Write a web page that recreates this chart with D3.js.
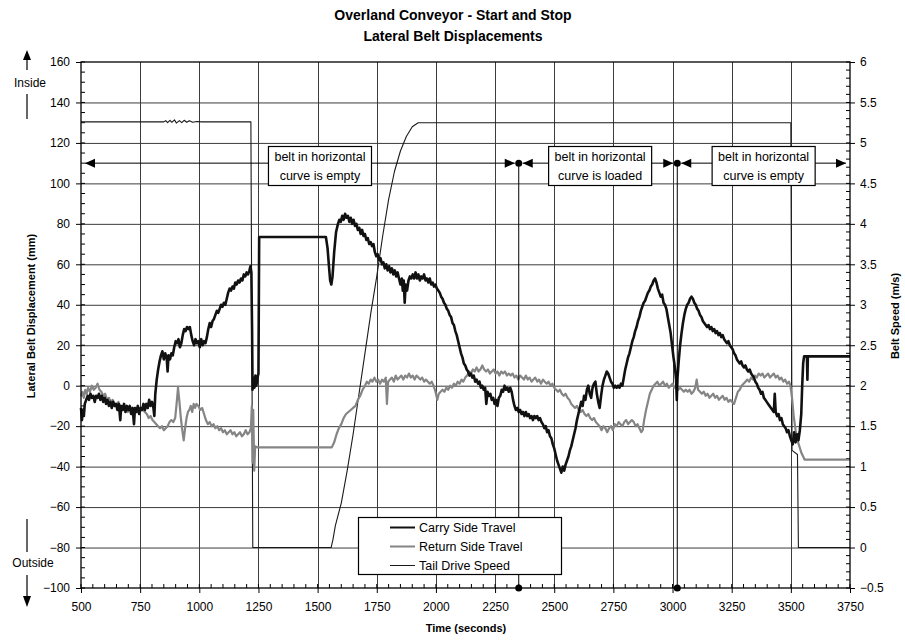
<!DOCTYPE html>
<html>
<head>
<meta charset="utf-8">
<script src="https://cdn.jsdelivr.net/npm/d3@7"></script>
<style>
  body { margin: 0; background: #fff; }
  svg { display: block; font-family: "Liberation Sans", Arial, sans-serif; }
</style>
</head>
<body>
<svg id="chart" width="905" height="640"></svg>
<script>
// ---- axis ticks ----
const timeTicks = [500, 750, 1000, 1250, 1500, 1750, 2000, 2250, 2500, 2750, 3000, 3250, 3500, 3750];
const dispTicks = [-100, -80, -60, -40, -20, 0, 20, 40, 60, 80, 100, 120, 140, 160];
const speedTicks = [-0.5, 0, 0.5, 1, 1.5, 2, 2.5, 3, 3.5, 4, 4.5, 5, 5.5, 6];

const seriesNames = ["Carry Side Travel", "Return Side Travel", "Tail Drive Speed"];

// ---- carry side lateral displacement, [time s, mm] ----
const carryTravel = [
  [500,-11],[504,-17],[508,-12],[512,-15],[516,-9],[522,-7],[528,-5],[534,-7],[540,-4],[546,-6],[552,-5],[558,-8],[564,-5],[570,-6],[576,-4],[582,-7],[588,-5],[594,-8],[600,-6],[606,-9],[612,-7],[618,-10],[624,-8],[630,-11],[636,-8],[642,-10],[648,-9],[654,-12],[660,-9],[666,-17],[670,-10],[676,-12],[682,-9],[688,-13],[694,-10],[700,-12],[706,-10],[712,-14],[718,-11],[724,-19],[728,-11],[734,-13],[740,-10],[746,-14],[752,-11],[758,-12],[764,-9],[770,-12],[776,-9],[782,-11],[788,-7],[794,-10],[800,-8],[806,-11],[810,-15],[814,-4],[820,3],[826,8],[832,12],[838,15],[844,17],[850,13],[856,16],[862,14],[866,7],[870,15],[876,13],[882,16],[888,15],[894,19],[900,22],[906,21],[912,23],[918,19],[924,21],[930,25],[936,28],[942,27],[948,29],[954,28],[960,29],[966,25],[972,22],[978,20],[984,23],[990,21],[996,22],[1002,19],[1008,23],[1014,20],[1020,22],[1026,21],[1032,24],[1038,28],[1044,31],[1050,29],[1056,32],[1062,33],[1068,35],[1074,37],[1080,36],[1086,38],[1092,40],[1098,39],[1104,41],[1110,40],[1116,43],[1122,46],[1128,48],[1134,47],[1140,49],[1146,48],[1152,51],[1158,50],[1164,52],[1170,51],[1176,53],[1182,52],[1188,55],[1194,54],[1200,56],[1206,55],[1212,57],[1216,59],[1220,56],[1223,28],[1225,-2],[1229,4],[1233,-1],[1237,5],[1241,0],[1246,4],[1250,6],[1253,73.5],
  [1535,73.5],[1542,68],[1548,59],[1553,52],[1558,50],[1563,54],[1570,66],[1578,76],[1586,80],[1592,82],[1598,81],[1604,84],[1610,82],[1616,85],[1622,83],[1628,84],[1634,81],[1640,83],[1646,80],[1652,82],[1658,79],[1664,80],[1670,77],[1676,78],[1682,75],[1688,77],[1694,74],[1700,75],[1706,72],[1712,73],[1718,70],[1724,71],[1730,69],[1736,70],[1742,66],[1748,64],[1754,65],[1760,62],[1766,63],[1772,60],[1778,61],[1784,58],[1790,60],[1796,57],[1802,59],[1808,56],[1814,58],[1820,55],[1826,57],[1832,54],[1838,56],[1844,53],[1850,50],[1856,53],[1860,47],[1864,52],[1868,41],[1872,50],[1878,47],[1884,52],[1890,54],[1896,53],[1902,55],[1908,53],[1914,56],[1920,53],[1926,55],[1932,52],[1938,54],[1944,53],[1950,55],[1956,52],[1962,53],[1968,51],[1974,53],[1980,50],[1986,51],[1992,49],[1998,50],[2004,48],[2010,47],[2016,46],[2022,44],[2028,43],[2034,41],[2040,40],[2046,38],[2052,37],[2058,35],[2064,34],[2070,31],[2076,30],[2082,27],[2088,25],[2094,22],[2100,19],[2106,16],[2112,14],[2118,11],[2124,10],[2130,8],[2136,7],[2142,5],[2148,6],[2154,4],[2160,5],[2166,2],[2172,3],[2178,1],[2184,2],[2190,-1],[2196,0],[2202,-2],[2208,-1],[2213,-9],[2218,-3],[2224,-5],[2230,-4],[2236,-7],[2242,-6],[2248,-9],[2254,-7],[2260,-10],[2266,-6],[2272,-5],[2278,-2],[2284,-3],[2290,0],[2296,-2],[2302,-1],[2308,-3],[2314,-1],[2320,-3],[2326,-7],[2332,-10],[2338,-12],[2344,-11],[2350,-13],[2356,-12],[2362,-14],[2368,-13],[2374,-15],[2380,-13],[2386,-15],[2392,-14],[2398,-16],[2404,-15],[2410,-17],[2416,-15],[2422,-16],[2428,-15],[2434,-17],[2440,-16],[2446,-18],[2452,-19],[2458,-21],[2464,-20],[2470,-23],[2476,-22],[2482,-25],[2488,-26],[2494,-29],[2500,-31],[2506,-34],[2512,-37],[2518,-39],[2524,-41],[2530,-43],[2536,-40],[2542,-42],[2548,-39],[2554,-37],[2560,-35],[2566,-32],[2572,-30],[2578,-27],[2584,-24],[2590,-21],[2596,-17],[2602,-14],[2608,-11],[2614,-8],[2620,-10],[2626,-5],[2632,-7],[2638,-2],[2644,0],[2650,-4],[2656,-6],[2662,-1],[2668,1],[2674,2],[2680,-4],[2686,-8],[2692,-11],[2698,-5],[2704,0],[2710,3],[2716,5],[2722,7],[2728,6],[2734,4],[2740,2],[2746,1],[2752,-1],[2758,0],[2764,-1],[2770,0],[2776,-1],[2782,1],[2788,0],[2794,4],[2800,8],[2806,11],[2812,14],[2818,16],[2824,19],[2830,22],[2836,24],[2842,27],[2848,29],[2854,32],[2860,34],[2866,37],[2872,39],[2878,41],[2884,42],[2890,44],[2896,46],[2902,47],[2908,49],[2914,50],[2920,52],[2926,53],[2932,51],[2938,48],[2944,46],[2950,44],[2956,45],[2962,41],[2968,40],[2974,38],[2980,34],[2986,30],[2992,26],[2998,20],[3004,14],[3010,9],[3015,3],[3018,-7],[3021,4],[3026,12],[3032,20],[3038,26],[3044,31],[3050,35],[3056,38],[3062,40],[3068,41],[3074,43],[3080,44],[3086,43],[3092,41],[3098,40],[3104,38],[3110,37],[3116,35],[3122,34],[3128,32],[3134,31],[3140,30],[3146,29],[3152,30],[3158,28],[3164,29],[3170,27],[3176,28],[3182,26],[3188,27],[3194,25],[3200,26],[3206,24],[3212,25],[3218,23],[3224,22],[3230,21],[3236,22],[3242,20],[3248,19],[3254,18],[3260,16],[3266,15],[3272,13],[3278,12],[3284,11],[3290,12],[3296,10],[3302,9],[3308,10],[3314,8],[3320,7],[3326,8],[3332,6],[3338,5],[3344,4],[3350,2],[3356,1],[3362,-1],[3368,-2],[3374,-4],[3380,-3],[3386,-6],[3392,-7],[3398,-8],[3404,-9],[3410,-10],[3416,-11],[3422,-12],[3428,-13],[3432,-4],[3436,-13],[3442,-15],[3448,-14],[3454,-17],[3460,-16],[3466,-19],[3472,-20],[3478,-21],[3484,-23],[3490,-22],[3496,-25],[3502,-27],[3508,-29],[3514,-23],[3520,-28],[3526,-24],[3532,-27],[3538,-22],[3544,-14],[3548,0],[3552,11],[3556,14.5],[3568,14.5],[3570,3],[3572,14.5],[3750,14.5]
];

// ---- return side lateral displacement, [time s, mm] ----
const returnTravel = [
  [500,-5],[506,-3],[512,-6],[518,-2],[524,-4],[530,-1],[538,-3],[546,0],[554,-2],[562,-1],[570,1],[578,-2],[586,-3],[594,-5],[602,-4],[610,-7],[618,-6],[626,-8],[634,-7],[642,-9],[650,-10],[658,-8],[666,-11],[674,-10],[682,-12],[690,-11],[698,-13],[706,-11],[714,-12],[722,-13],[730,-11],[738,-12],[746,-14],[754,-11],[762,-12],[770,-13],[778,-14],[786,-16],[794,-15],[802,-17],[810,-18],[818,-19],[826,-20],[834,-21],[842,-20],[850,-22],[858,-21],[866,-20],[874,-18],[882,-17],[890,-18],[898,-16],[904,-9],[910,-1],[916,-8],[922,-16],[928,-22],[934,-27],[940,-21],[946,-16],[952,-13],[958,-12],[964,-10],[970,-13],[976,-9],[982,-11],[988,-9],[996,-10],[1004,-12],[1012,-11],[1020,-14],[1028,-17],[1036,-19],[1044,-18],[1052,-20],[1060,-19],[1068,-21],[1076,-20],[1084,-22],[1092,-21],[1100,-23],[1108,-22],[1116,-24],[1124,-23],[1132,-22],[1140,-24],[1148,-23],[1156,-25],[1164,-24],[1172,-23],[1180,-25],[1188,-24],[1196,-22],[1204,-24],[1212,-23],[1218,-21],[1222,-10],[1225,-38],[1228,-12],[1232,-42],[1236,-30],[1246,-30.5],
  [1560,-30.5],[1570,-28],[1580,-24],[1590,-21],[1600,-19],[1610,-16],[1620,-14],[1630,-13],[1640,-12],[1650,-11],[1660,-10],[1670,-7],[1680,-5],[1690,-2],[1700,0],[1708,2],[1716,1],[1724,3],[1732,2],[1740,4],[1748,2],[1756,3],[1764,1],[1772,3],[1780,2],[1788,4],[1793,-9],[1798,2],[1806,3],[1814,4],[1822,2],[1830,5],[1838,3],[1846,4],[1854,5],[1862,3],[1870,5],[1878,4],[1886,6],[1894,4],[1902,5],[1910,3],[1918,5],[1926,4],[1934,3],[1942,4],[1950,2],[1958,3],[1966,2],[1974,1],[1982,2],[1990,0],[1998,-3],[2006,-7],[2012,-4],[2020,-3],[2028,-2],[2036,-3],[2044,-1],[2052,-2],[2060,0],[2068,-1],[2076,1],[2084,0],[2092,2],[2100,1],[2108,3],[2116,2],[2124,4],[2132,5],[2140,7],[2148,6],[2156,8],[2164,7],[2172,9],[2180,7],[2188,8],[2196,10],[2204,8],[2212,7],[2220,8],[2228,6],[2236,7],[2244,8],[2252,6],[2260,7],[2268,5],[2276,7],[2284,6],[2292,7],[2300,5],[2308,6],[2316,5],[2324,6],[2332,4],[2340,5],[2348,3],[2356,5],[2364,4],[2372,3],[2380,5],[2388,3],[2396,4],[2404,2],[2412,3],[2420,4],[2428,2],[2436,3],[2444,1],[2452,3],[2460,2],[2468,1],[2476,2],[2484,0],[2492,1],[2500,-1],[2508,-2],[2516,-3],[2524,-2],[2532,-4],[2540,-5],[2548,-4],[2556,-6],[2564,-7],[2572,-9],[2580,-10],[2588,-11],[2596,-10],[2604,-12],[2612,-13],[2620,-12],[2628,-14],[2636,-15],[2644,-14],[2652,-16],[2660,-17],[2668,-16],[2676,-18],[2684,-19],[2692,-20],[2700,-22],[2708,-20],[2716,-21],[2724,-23],[2732,-21],[2740,-20],[2748,-22],[2756,-19],[2764,-20],[2772,-18],[2780,-19],[2788,-20],[2796,-18],[2804,-17],[2812,-19],[2820,-18],[2828,-17],[2836,-18],[2844,-20],[2852,-19],[2860,-21],[2868,-23],[2874,-22],[2880,-17],[2888,-12],[2896,-8],[2904,-4],[2912,-2],[2920,0],[2928,1],[2936,2],[2944,0],[2952,1],[2960,2],[2968,0],[2976,1],[2984,-1],[2992,0],[3000,1],[3008,-1],[3016,0],[3024,-2],[3032,-1],[3040,-2],[3048,-3],[3056,-2],[3064,-3],[3072,-2],[3080,-4],[3088,-3],[3096,-1],[3102,3],[3108,-2],[3116,-3],[3124,-4],[3132,-3],[3140,-5],[3148,-4],[3156,-6],[3164,-5],[3172,-4],[3180,-6],[3188,-5],[3196,-7],[3204,-6],[3212,-5],[3220,-7],[3228,-6],[3236,-8],[3244,-7],[3252,-8],[3260,-9],[3268,-6],[3276,-3],[3284,-2],[3292,0],[3300,1],[3308,2],[3316,3],[3324,2],[3332,4],[3340,3],[3348,5],[3356,4],[3364,6],[3372,5],[3380,6],[3388,4],[3396,5],[3404,6],[3412,4],[3420,5],[3428,6],[3436,4],[3444,5],[3452,3],[3460,4],[3468,2],[3476,3],[3484,1],[3492,2],[3498,0],[3505,-6],[3512,-15],[3520,-22],[3528,-27],[3536,-30],[3544,-33],[3552,-35],[3558,-36.5],[3750,-36.5]
];

// ---- tail drive belt speed, [time s, m/s] ----
const tailSpeed = [
  [500,5.26],[850,5.26],[858,5.275],[866,5.25],[876,5.28],[884,5.255],[895,5.285],[903,5.245],[916,5.275],[926,5.25],[936,5.28],[947,5.255],[958,5.275],[972,5.255],[990,5.265],[1010,5.26],[1218,5.26],[1226,0],
  [1557,0],[1565,0.1],[1575,0.27],[1600,0.55],[1625,0.95],[1650,1.4],[1675,1.9],[1700,2.4],[1725,2.9],[1750,3.35],[1775,3.85],[1800,4.3],[1825,4.65],[1850,4.9],[1875,5.08],[1900,5.2],[1925,5.25],
  [3500,5.25],[3505,1.2],[3528,1.15],[3532,0],[3750,0]
];

// ---- operating regions along the run ----
const regionBreaks = [2350, 3020];
const regionLabels = [
  ["belt in horizontal", "curve is empty"],
  ["belt in horizontal", "curve is loaded"],
  ["belt in horizontal", "curve is empty"]
];
const regionArrowLevel = 110;   // mm, height of the region arrows

// ---- layout ----
const svg = d3.select("#chart");
const m = { l: 81, r: 850, t: 62, b: 588 };
const FONT = '"Liberation Sans", Arial, sans-serif';

const x = d3.scaleLinear().domain([500, 3750]).range([m.l, m.r]);
const y = d3.scaleLinear().domain([-100, 160]).range([m.b, m.t]);
const y2 = d3.scaleLinear().domain([-0.5, 6]).range([m.b, m.t]);

svg.append("rect").attr("width", 905).attr("height", 640).attr("fill", "#fff");

// titles
svg.append("text").attr("x", 453).attr("y", 20).attr("text-anchor", "middle")
  .attr("font-size", 14).attr("font-weight", "bold").text("Overland Conveyor - Start and Stop");
svg.append("text").attr("x", 453).attr("y", 41).attr("text-anchor", "middle")
  .attr("font-size", 14).attr("font-weight", "bold").text("Lateral Belt Displacements");

// grid
const grid = svg.append("g").attr("stroke", "#3c3c3c").attr("stroke-width", 1);
grid.selectAll("line.h").data(dispTicks.slice(1, -1)).join("line").attr("class", "h")
  .attr("x1", m.l).attr("x2", m.r).attr("y1", d => y(d) + 0.5).attr("y2", d => y(d) + 0.5);
grid.selectAll("line.v").data(timeTicks.slice(1, -1)).join("line").attr("class", "v")
  .attr("y1", m.t).attr("y2", m.b).attr("x1", d => Math.round(x(d)) + 0.5).attr("x2", d => Math.round(x(d)) + 0.5);

// minor ticks (inside the frame)
const minor = svg.append("g").attr("stroke", "#000").attr("stroke-width", 1);
minor.selectAll("line.ml").data(d3.range(-100, 160.01, 5)).join("line").attr("class", "ml")
  .attr("x1", m.l).attr("x2", m.l + 4).attr("y1", d => y(d)).attr("y2", d => y(d));
minor.selectAll("line.mr").data(d3.range(-0.5, 6.001, 0.1)).join("line").attr("class", "mr")
  .attr("x1", m.r - 4).attr("x2", m.r).attr("y1", d => y2(d)).attr("y2", d => y2(d));
minor.selectAll("line.mb").data(d3.range(500, 3750.1, 50)).join("line").attr("class", "mb")
  .attr("x1", d => x(d)).attr("x2", d => x(d)).attr("y1", m.b - 4).attr("y2", m.b);

// axes
function styleAxis(g) {
  g.select(".domain").remove();
  g.selectAll("text").attr("font-size", 12).attr("font-family", FONT).attr("fill", "#000");
  g.selectAll("line").attr("stroke", "#000");
}
svg.append("g").attr("transform", `translate(${m.l},0)`)
  .call(d3.axisLeft(y).tickValues(dispTicks).tickSize(5).tickPadding(6)).call(styleAxis);
svg.append("g").attr("transform", `translate(${m.r},0)`)
  .call(d3.axisRight(y2).tickValues(speedTicks).tickSize(5).tickPadding(5).tickFormat(d3.format("~g"))).call(styleAxis);
svg.append("g").attr("transform", `translate(0,${m.b})`)
  .call(d3.axisBottom(x).tickValues(timeTicks).tickSize(5).tickPadding(9).tickFormat(d3.format("d"))).call(styleAxis);

// series
const lineD = d3.line().x(d => x(d[0])).y(d => y(d[1]));
const lineS = d3.line().x(d => x(d[0])).y(d => y2(d[1]));
const plot = svg.append("g").attr("fill", "none").attr("stroke-linejoin", "round");
plot.append("path").datum(tailSpeed).attr("d", lineS).attr("stroke", "#1a1a1a").attr("stroke-width", 1.1);
plot.append("path").datum(returnTravel).attr("d", lineD).attr("stroke", "#858585").attr("stroke-width", 2.2);
plot.append("path").datum(carryTravel).attr("d", lineD).attr("stroke", "#111").attr("stroke-width", 2.6);

// frame
svg.append("rect").attr("x", m.l).attr("y", m.t).attr("width", m.r - m.l).attr("height", m.b - m.t)
  .attr("fill", "none").attr("stroke", "#000").attr("stroke-width", 1.3);

// region markers and arrows
const ann = svg.append("g");
const ay = y(regionArrowLevel);
regionBreaks.forEach(t => {
  ann.append("line").attr("x1", x(t)).attr("x2", x(t)).attr("y1", ay).attr("y2", m.b)
    .attr("stroke", "#000").attr("stroke-width", 1);
  ann.append("circle").attr("cx", x(t)).attr("cy", ay).attr("r", 3.5).attr("fill", "#000");
  ann.append("circle").attr("cx", x(t)).attr("cy", m.b).attr("r", 3.5).attr("fill", "#000");
});
function arrowHead(tipX, dir) {
  const L = 10, h = 4.5;
  ann.append("path")
    .attr("d", `M${tipX},${ay} L${tipX - dir * L},${ay - h} L${tipX - dir * L},${ay + h} Z`)
    .attr("fill", "#000");
}
const bounds = [500, ...regionBreaks, 3750];
const labelCentres = [1510, 2694, 3385];
regionLabels.forEach((lines, i) => {
  const x0 = x(bounds[i]) + 4;
  const x1 = x(bounds[i + 1]) - 4;
  ann.append("line").attr("x1", x0).attr("x2", x1).attr("y1", ay).attr("y2", ay)
    .attr("stroke", "#000").attr("stroke-width", 1);
  arrowHead(x0, -1);
  arrowHead(x1, 1);
  const cx = x(labelCentres[i]);
  const g = ann.append("g");
  const rect = g.append("rect").attr("fill", "#fff").attr("stroke", "#000").attr("stroke-width", 1.2);
  const texts = lines.map((s, k) => g.append("text").attr("x", cx).attr("y", 161 + k * 19)
    .attr("text-anchor", "middle").attr("font-size", 12.5).text(s));
  const w = d3.max(texts, t => t.node().getBBox().width) + 12;
  rect.attr("x", cx - w / 2).attr("y", 146.5).attr("width", w).attr("height", 39);
});

// inside / outside indicators
const side = svg.append("g").attr("stroke", "#000").attr("stroke-width", 1.2);
side.append("line").attr("x1", 27).attr("x2", 27).attr("y1", 58).attr("y2", 70);
side.append("path").attr("d", "M27,50 L23,60 L31,60 Z").attr("fill", "#000").attr("stroke", "none");
side.append("line").attr("x1", 27).attr("x2", 27).attr("y1", 94).attr("y2", 119);
svg.append("text").attr("x", 30).attr("y", 87).attr("text-anchor", "middle").attr("font-size", 12).text("Inside");
side.append("line").attr("x1", 27).attr("x2", 27).attr("y1", 519).attr("y2", 552);
side.append("line").attr("x1", 27).attr("x2", 27).attr("y1", 575).attr("y2", 598);
side.append("path").attr("d", "M27,607 L23,596 L31,596 Z").attr("fill", "#000").attr("stroke", "none");
svg.append("text").attr("x", 33).attr("y", 567).attr("text-anchor", "middle").attr("font-size", 12).text("Outside");

// axis titles
svg.append("text").attr("transform", "translate(35,316) rotate(-90)").attr("text-anchor", "middle")
  .attr("font-size", 11).attr("font-weight", "bold").text("Lateral Belt Displacement (mm)");
svg.append("text").attr("transform", "translate(899,316) rotate(-90)").attr("text-anchor", "middle")
  .attr("font-size", 11).attr("font-weight", "bold").text("Belt Speed (m/s)");
svg.append("text").attr("x", 466).attr("y", 632).attr("text-anchor", "middle")
  .attr("font-size", 11).attr("font-weight", "bold").text("Time (seconds)");

// legend
const lg = svg.append("g");
lg.append("rect").attr("x", 358.5).attr("y", 517.5).attr("width", 203).attr("height", 57)
  .attr("fill", "#fff").attr("stroke", "#000").attr("stroke-width", 1.2);
const legendStyles = [
  { stroke: "#111", w: 2 },
  { stroke: "#858585", w: 2 },
  { stroke: "#1a1a1a", w: 1 }
];
seriesNames.forEach((name, i) => {
  const cy = 527.5 + i * 19;
  lg.append("line").attr("x1", 390).attr("x2", 415).attr("y1", cy).attr("y2", cy)
    .attr("stroke", legendStyles[i].stroke).attr("stroke-width", legendStyles[i].w);
  lg.append("text").attr("x", 419).attr("y", cy + 4.5).attr("font-size", 12.5).text(name);
});
</script>
</body>
</html>
